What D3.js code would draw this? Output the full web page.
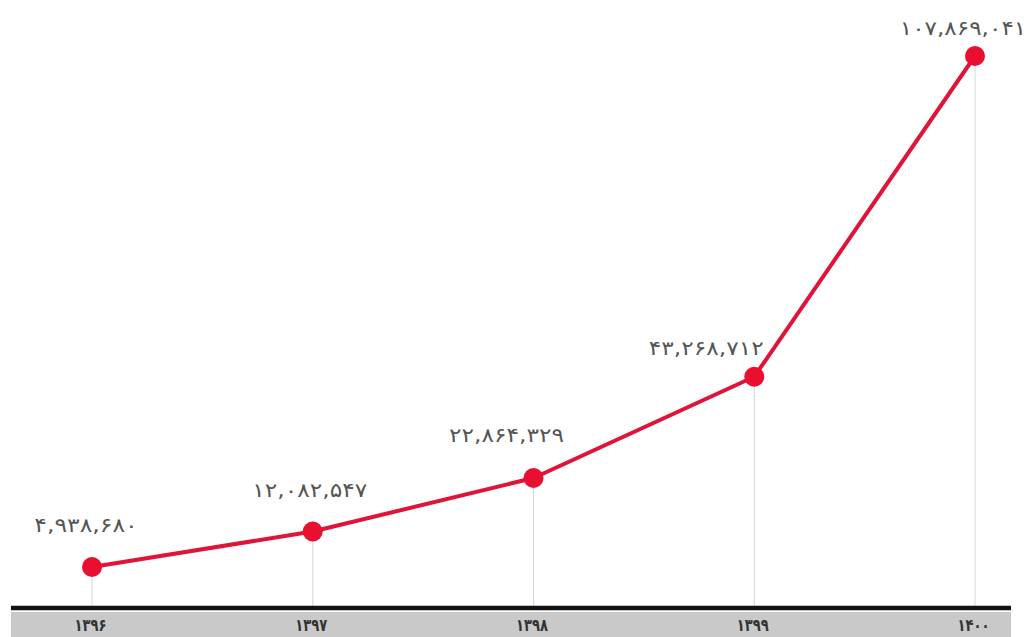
<!DOCTYPE html>
<html><head><meta charset="utf-8">
<script src="https://cdn.jsdelivr.net/npm/d3@7"></script>
<style>body{margin:0;background:#fff}svg{display:block}</style>
</head><body>
<svg id="c" width="1030" height="637"></svg>
<script>
const years = ["۱۳۹۶","۱۳۹۷","۱۳۹۸","۱۳۹۹","۱۴۰۰"];
const values = [4938680, 12082547, 22864329, 43268712, 107869041];
const valueLabels = ["۴,۹۳۸,۶۸۰","۱۲,۰۸۲,۵۴۷","۲۲,۸۶۴,۳۲۹","۴۳,۲۶۸,۷۱۲","۱۰۷,۸۶۹,۰۴۱"];

const svg = d3.select("#c");
const x = d3.scalePoint().domain(years).range([92, 975]);
const y = d3.scaleLinear().domain([0, 107869041]).range([591.5, 56]);
const axisY = 608;
const labelDx = [-6, -3, -27, -48, -12];
const labelDy = [-35, -35, -36, -22, -21];

// grey band
svg.append("rect").attr("x", 11).attr("y", 612).attr("width", 1000).attr("height", 25).attr("fill", "#c9c9c9");

// gridlines
svg.append("g").selectAll("line").data(years).join("line")
  .attr("x1", d => x(d)).attr("x2", d => x(d))
  .attr("y1", (d, i) => y(values[i])).attr("y2", axisY)
  .attr("stroke", "#d6d6d6").attr("stroke-width", 1);

// axis
const axis = d3.axisBottom(x).tickSize(0).tickPadding(0);
const ag = svg.append("g").attr("transform", `translate(0,${axisY})`).call(axis);
ag.select(".domain").remove();
ag.append("line").attr("x1", 11).attr("x2", 1011).attr("y1", 0).attr("y2", 0)
  .attr("stroke", "#111").attr("stroke-width", 4.5);
ag.selectAll(".tick text").attr("y", 23).attr("dx", "-2")
  .attr("font-family", "DejaVu Sans, sans-serif").attr("font-size", 17).attr("font-weight", "bold")
  .attr("textLength", 32).attr("lengthAdjust", "spacingAndGlyphs")
  .attr("fill", "#333").attr("dy", 0);

// line
const data = years.map((d, i) => ({ year: d, v: values[i], label: valueLabels[i] }));
svg.append("path").datum(data)
  .attr("d", d3.line().x(d => x(d.year)).y(d => y(d.v)))
  .attr("fill", "none").attr("stroke", "#df1438").attr("stroke-width", 4).attr("stroke-linejoin", "round");

svg.append("g").selectAll("circle").data(data).join("circle")
  .attr("cx", d => x(d.year)).attr("cy", d => y(d.v)).attr("r", 10)
  .attr("fill", "#ea0f30");

svg.append("g").selectAll("text").data(data).join("text")
  .attr("x", (d, i) => x(d.year) + labelDx[i])
  .attr("y", (d, i) => y(d.v) + labelDy[i])
  .attr("text-anchor", "middle")
  .attr("font-family", "DejaVu Sans, sans-serif").attr("font-size", 20)
  .attr("textLength", d => d.label.length * 11.5).attr("lengthAdjust", "spacingAndGlyphs")
  .attr("fill", "#555")
  .text(d => d.label);
</script>
</body></html>
